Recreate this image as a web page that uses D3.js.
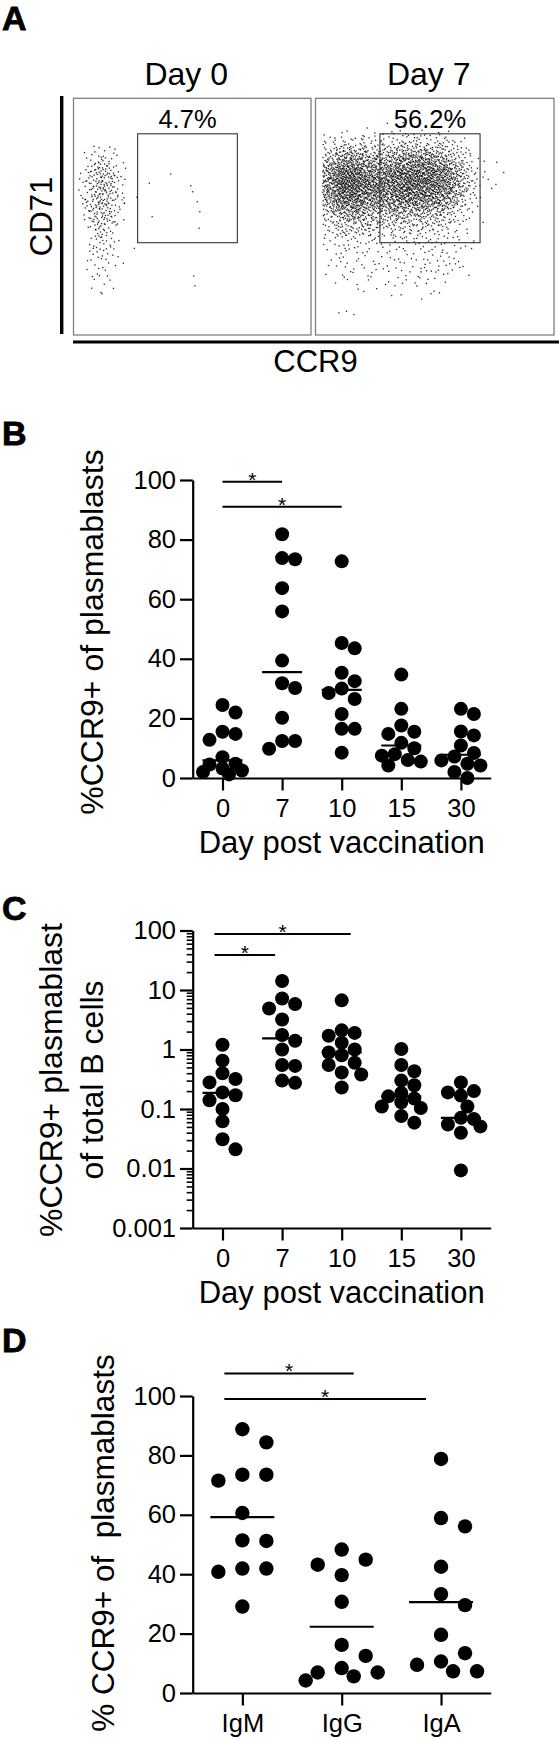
<!DOCTYPE html>
<html><head><meta charset="utf-8">
<script src="https://cdn.jsdelivr.net/npm/d3@7"></script>
<style>
body{margin:0;background:#fff;}
svg{display:block;}
</style></head><body>
<svg id="chart" width="559" height="1739"></svg>
<script>
// ================= DATA =================
// Panel A (flow cytometry): CCR9 (x) vs CD71 (y), both on 0-100 display units
const flowTitles = ["Day 0", "Day 7"];
const flowGatePct = ["4.7%", "56.2%"];
const gateCCR9 = [27, 69];
const gateCD71 = [39, 85];
// Day 0 event density (events per cell): columns start CCR9=2, width 4; rows start CD71=80 (top), height 4
const day0Grid = [
  [0,2,3,2,0],
  [0,4,6,4,1],
  [1,8,11,8,1],
  [2,9,14,9,3],
  [3,10,15,10,2],
  [3,9,15,10,3],
  [2,9,14,9,2],
  [0,8,12,8,1],
  [0,6,10,6,0],
  [0,4,8,4,0],
  [0,3,6,3,0],
  [0,3,4,2,0],
  [0,2,3,2,0],
  [0,1,3,1,0],
  [0,1,2,1,0],
  [0,1,1,0,0]
];
const day0Sparse = [[31.9,64.1],[40.9,68.0],[49.4,63.1],[50.2,60.5],[52.1,56.3],[53.2,52.1],[33.1,50.0],[52.9,45.1],[26.7,58.2],[5.0,57.3],[25.6,36.6],[21.0,30.3],[50.6,24.9],[51.1,20.8],[21.4,55.6]];
// Day 7 event density: columns start CCR9=3, width 6; rows start CD71=90 (top), height 6
const day7Grid = [
  [0,0,0,1,2,2,2,2,1,0,0,0,0],
  [7,14,14,11,14,18,18,16,14,7,2,0,0],
  [28,58,50,40,43,54,58,54,43,22,5,0,0],
  [54,99,90,68,72,86,94,90,76,40,9,2,1],
  [61,112,104,83,83,97,104,94,79,43,11,2,0],
  [50,90,86,65,68,79,79,72,58,29,7,0,0],
  [22,47,50,36,32,36,36,32,25,13,4,0,0],
  [9,22,25,18,14,16,16,16,13,5,2,0,0],
  [4,9,9,7,5,7,7,7,7,4,2,0,0],
  [2,5,5,4,4,5,5,5,7,5,0,0,0],
  [2,4,4,4,4,4,5,7,5,4,0,0,0],
  [0,2,2,2,2,4,2,4,2,0,0,0,0],
  [0,0,1,0,0,0,0,1,0,0,0,0,0],
  [0,1,0,0,0,0,0,0,0,0,0,0,0]
];
const day7Sparse = [[76.0,73.0],[13.0,10.0]];

// Panel B: %CCR9+ of plasmablasts
const bDays = ["0", "7", "10", "15", "30"];
const bDay0  = [24.5, 22.0, 15.5, 14.8, 12.8, 7.0, 4.8, 4.5, 3.2, 2.5, 2.0, 1.2];
const bDay7  = [81.8, 73.8, 73.4, 63.7, 55.9, 39.4, 31.8, 30.2, 20.2, 12.4, 12.4, 9.8];
const bDay10 = [72.7, 45.3, 43.5, 35.3, 32.5, 30.0, 28.5, 26.5, 21.5, 16.5, 16.5, 8.5];
const bDay15 = [34.7, 23.2, 17.6, 15.5, 14.8, 11.8, 10.0, 8.0, 7.5, 6.0, 5.5, 4.2];
const bDay30 = [23.2, 21.5, 15.6, 14.3, 10.9, 8.4, 7.2, 5.9, 4.8, 4.2, 2.0, 0.0];
const bMedians = [5.9, 35.5, 29.6, 10.9, 7.8];
const bTicks = [0, 20, 40, 60, 80, 100];
const bTickLabels = ["0", "20", "40", "60", "80", "100"];
const bSig = [["0", "7"], ["0", "10"]];

// Panel C: %CCR9+ plasmablast of total B cells (log)
const cDays = ["0", "7", "10", "15", "30"];
const cDay0  = [1.2, 0.65, 0.40, 0.32, 0.28, 0.19, 0.17, 0.14, 0.10, 0.062, 0.031, 0.021];
const cDay7  = [14.2, 7.2, 5.8, 4.9, 3.2, 1.75, 1.4, 1.0, 0.55, 0.53, 0.30, 0.275];
const cDay10 = [6.7, 2.1, 1.9, 1.7, 1.3, 1.0, 0.89, 0.8, 0.6, 0.55, 0.41, 0.38, 0.23];
const cDay15 = [1.02, 0.55, 0.43, 0.30, 0.25, 0.186, 0.163, 0.15, 0.13, 0.11, 0.104, 0.076, 0.059];
const cDay30 = [0.28, 0.20, 0.19, 0.168, 0.11, 0.071, 0.068, 0.055, 0.051, 0.040, 0.0093];
const cMedians = [0.186, 1.54, 0.89, 0.163, 0.071];
const cTicks = [0.001, 0.01, 0.1, 1, 10, 100];
const cTickLabels = ["0.001", "0.01", "0.1", "1", "10", "100"];
const cSig = [["0", "10"], ["0", "7"]];

// Panel D: % CCR9+ of plasmablasts by isotype
const dClasses = ["IgM", "IgG", "IgA"];
const dIgM = [88.8, 84.4, 73.5, 73.5, 71.5, 60.6, 51.4, 51.2, 41.9, 41.9, 40.8, 29.1];
const dIgG = [48.3, 44.9, 43.2, 39.7, 30.7, 16.2, 12.5, 8.4, 6.9, 6.9, 5.6, 4.2];
const dIgA = [78.8, 58.9, 56.1, 42.5, 33.3, 29.6, 19.6, 13.4, 10.6, 9.5, 7.3, 7.3];
const dMeans = [59.2, 22.3, 30.6];
const dTicks = [0, 20, 40, 60, 80, 100];
const dTickLabels = ["0", "20", "40", "60", "80", "100"];
const dSig = [["IgM", "IgG"], ["IgM", "IgA"]];

// ================= DRAWING =================
const FONT = '"Liberation Sans", Arial, Helvetica, sans-serif';
const svg = d3.select("#chart").style("font-family", FONT);

// panel letters
[["A", 30], ["B", 445], ["C", 920], ["D", 1352]].forEach(([t, yy]) => {
  svg.append("text").attr("x", 2).attr("y", yy).attr("font-size", 34)
    .attr("font-weight", "bold").attr("fill", "#000")
    .attr("stroke", "#000").attr("stroke-width", 0.8).text(t);
});

// ---------- Panel A ----------
function halton(i, b) { let f = 1, r = 0; while (i > 0) { f /= b; r += f * (i % b); i = Math.floor(i / b); } return r; }
// quasi-uniform (Halton) sampling of the density grid, accepted by bilinear-interpolated density
function gridPoints(grid, colStart, cw, rowTop, ch, seed) {
  const nr = grid.length, nc = grid[0].length;
  const mx = d3.max(grid.flat());
  const dens = (cx, cy) => { // cx, cy in cell units, centers at i+0.5
    let fx = Math.min(Math.max(cx - 0.5, 0), nc - 1), fy = Math.min(Math.max(cy - 0.5, 0), nr - 1);
    const x0 = Math.floor(fx), y0 = Math.floor(fy), x1 = Math.min(x0 + 1, nc - 1), y1 = Math.min(y0 + 1, nr - 1);
    const tx = fx - x0, ty = fy - y0;
    return (grid[y0][x0] * (1 - tx) + grid[y0][x1] * tx) * (1 - ty) + (grid[y1][x0] * (1 - tx) + grid[y1][x1] * tx) * ty;
  };
  const N = Math.round(mx * nr * nc);
  const pts = [];
  for (let n = seed; n < seed + N; n++) {
    const u = halton(n, 2) * nc, v = halton(n, 3) * nr;
    if (halton(n, 5) * mx < dens(u, v)) pts.push([colStart + u * cw, rowTop - v * ch]);
  }
  return pts;
}
const boxTop = 98.3, boxBot = 335;
const flowBoxes = [[73.5, 311], [315.5, 554]];
const flowPts = [
  gridPoints(day0Grid, 2, 4, 80, 4, 11).concat(day0Sparse),
  gridPoints(day7Grid, 3, 6, 90, 6, 101).concat(day7Sparse)
];
flowBoxes.forEach(([x0, x1], i) => {
  const fx = d3.scaleLinear().domain([0, 100]).range([x0, x1]);
  const fy = d3.scaleLinear().domain([0, 100]).range([boxBot, boxTop]);
  const g = svg.append("g");
  g.append("rect").attr("x", x0).attr("y", boxTop).attr("width", x1 - x0).attr("height", boxBot - boxTop)
    .attr("fill", "none").attr("stroke", "#808080").attr("stroke-width", 1.3);
  g.append("g").selectAll("rect").data(flowPts[i]).join("rect")
    .attr("x", d => fx(d[0]) - 0.65).attr("y", d => fy(d[1]) - 0.65)
    .attr("width", 1.3).attr("height", 1.3).attr("fill", "#000").attr("fill-opacity", 0.85);
  g.append("rect").attr("x", fx(gateCCR9[0])).attr("y", fy(gateCD71[1]))
    .attr("width", fx(gateCCR9[1]) - fx(gateCCR9[0])).attr("height", fy(gateCD71[0]) - fy(gateCD71[1]))
    .attr("fill", "none").attr("stroke", "#333").attr("stroke-width", 1.1);
  g.append("text").attr("x", (fx(gateCCR9[0]) + fx(gateCCR9[1])) / 2).attr("y", 128)
    .attr("text-anchor", "middle").attr("font-size", 25.5).text(flowGatePct[i]);
  g.append("text").attr("x", (x0 + x1) / 2 - 6).attr("y", 85)
    .attr("text-anchor", "middle").attr("font-size", 32).text(flowTitles[i]);
});
svg.append("line").attr("x1", 61.7).attr("x2", 61.7).attr("y1", 96).attr("y2", 334)
  .attr("stroke", "#000").attr("stroke-width", 3.4);
svg.append("line").attr("x1", 73).attr("x2", 559).attr("y1", 342).attr("y2", 342)
  .attr("stroke", "#000").attr("stroke-width", 3);
svg.append("text").attr("transform", "translate(52,216.5) rotate(-90)")
  .attr("text-anchor", "middle").attr("font-size", 31).text("CD71");
svg.append("text").attr("x", 315.5).attr("y", 372)
  .attr("text-anchor", "middle").attr("font-size", 31).text("CCR9");

// ---------- dot plots ----------
function swarm(values, y, spacing, maxHalf) {
  const h = spacing / 2, minD = spacing * 0.95;
  const offs = [0];
  for (let k = 1; k * h <= maxHalf + 0.01; k++) offs.push(k * h, -k * h);
  const pts = values.map(v => ({ v, y: y(v) })).sort((a, b) => b.v - a.v);
  const placed = [];
  pts.forEach(p => {
    let best = 0, bestPen = Infinity;
    for (const o of offs) {
      let pen = 0;
      for (const q of placed) { const d = Math.hypot(o - q.dx, p.y - q.y); if (d < minD) pen += minD - d; }
      if (pen === 0) { best = o; break; }
      if (pen < bestPen - 1e-9) { bestPen = pen; best = o; }
    }
    p.dx = best; placed.push(p);
  });
  return placed;
}

const AX_X = 192.7, AX_R = 490.7;
function styleAxis(sel, fs) {
  sel.attr("font-family", FONT).attr("font-size", fs);
  sel.selectAll(".domain").attr("stroke", "#000").attr("stroke-width", 2.2);
  sel.selectAll(".tick line").attr("stroke", "#000").attr("stroke-width", 2.2);
  sel.selectAll(".tick text").attr("fill", "#000");
}

function dotPanel(o) {
  const g = svg.append("g");
  const x = d3.scalePoint().domain(o.cats).range([AX_X, AX_R]).padding(0.5);
  const y = o.y;
  const y0 = y.range()[0];
  if (o.minor) {
    const m = g.append("g").attr("transform", `translate(${AX_X},0)`)
      .call(d3.axisLeft(y).tickValues(o.minor).tickSize(6).tickFormat("").tickSizeOuter(0));
    m.select(".domain").remove();
    styleAxis(m, 25.5);
    m.selectAll(".tick line").attr("stroke-width", 1.6);
  }
  const ya = g.append("g").attr("transform", `translate(${AX_X},0)`)
    .call(d3.axisLeft(y).tickValues(o.ticks).tickFormat((d, i) => o.tickLabels[i]).tickSize(12.7).tickPadding(4).tickSizeOuter(0));
  styleAxis(ya, 25.5);
  const xa = g.append("g").attr("transform", `translate(0,${y0})`)
    .call(d3.axisBottom(x).tickSize(12.5).tickSizeOuter(0));
  styleAxis(xa, 25.5);
  xa.selectAll(".tick text").attr("y", 39).attr("dy", 0);
  if (o.xTitle) {
    g.append("text").attr("x", (AX_X + AX_R) / 2).attr("y", y0 + 75).attr("text-anchor", "middle")
      .attr("font-size", 31).text(o.xTitle);
  }
  o.yLabel.forEach(([t, bx]) => {
    g.append("text").attr("transform", `translate(${bx},${o.yLabelCy}) rotate(-90)`)
      .attr("text-anchor", "middle").attr("font-size", o.yLabelSize).style("white-space", "pre").text(t);
  });
  // center lines
  g.append("g").selectAll("line").data(o.cats).join("line")
    .attr("x1", c => x(c) - o.lineHalf).attr("x2", c => x(c) + o.lineHalf)
    .attr("y1", (c, i) => y(o.lines[i])).attr("y2", (c, i) => y(o.lines[i]))
    .attr("stroke", "#000").attr("stroke-width", 2.2);
  // dots
  o.groups.forEach((vals, i) => {
    const pts = swarm(vals, y, o.spacing, o.maxHalf);
    g.append("g").selectAll("circle").data(pts).join("circle")
      .attr("cx", p => x(o.cats[i]) + p.dx).attr("cy", p => p.y).attr("r", o.r).attr("fill", "#000");
  });
  // significance bars
  o.sig.forEach(([a, b], k) => {
    const yy = y(o.sigLevels[k]);
    const xa1 = x(a) + o.sigPad[k][0], xb1 = x(b) + o.sigPad[k][1];
    g.append("line").attr("x1", xa1).attr("x2", xb1).attr("y1", yy).attr("y2", yy)
      .attr("stroke", "#000").attr("stroke-width", 2);
    g.append("text").attr("x", (xa1 + xb1) / 2).attr("y", yy + 5).attr("text-anchor", "middle")
      .attr("font-size", 21).text("*");
  });
}

// Panel B
dotPanel({
  cats: bDays, groups: [bDay0, bDay7, bDay10, bDay15, bDay30], lines: bMedians,
  y: d3.scaleLinear().domain([0, 100]).range([778, 480]),
  ticks: bTicks, tickLabels: bTickLabels,
  xTitle: "Day post vaccination",
  yLabel: [["%CCR9+ of plasmablasts", 103]], yLabelCy: 632, yLabelSize: 32,
  spacing: 13, maxHalf: 19.5, r: 7, lineHalf: 20,
  sig: bSig, sigLevels: [99.4, 91.0], sigPad: [[0, 0], [0, 0]]
});

// Panel C
const cMinor = [];
[0.001, 0.01, 0.1, 1, 10].forEach(dec => { for (let k = 2; k <= 9; k++) cMinor.push(k * dec); });
dotPanel({
  cats: cDays, groups: [cDay0, cDay7, cDay10, cDay15, cDay30], lines: cMedians,
  y: d3.scaleLog().domain([0.001, 100]).range([1228, 930.5]),
  ticks: cTicks, tickLabels: cTickLabels, minor: cMinor,
  xTitle: "Day post vaccination",
  yLabel: [["%CCR9+ plasmablast", 61.5], ["of total B cells", 103]], yLabelCy: 1080, yLabelSize: 32,
  spacing: 13, maxHalf: 19.5, r: 7, lineHalf: 20,
  sig: cSig, sigLevels: [87, 38.7], sigPad: [[-8, 9], [-8, -7]]
});

// Panel D
dotPanel({
  cats: dClasses, groups: [dIgM, dIgG, dIgA], lines: dMeans,
  y: d3.scaleLinear().domain([0, 100]).range([1693, 1396]),
  ticks: dTicks, tickLabels: dTickLabels,
  xTitle: null,
  yLabel: [["% CCR9+ of  plasmablasts", 114]], yLabelCy: 1543, yLabelSize: 31.5,
  spacing: 24, maxHalf: 36, r: 7.2, lineHalf: 32,
  sig: dSig, sigLevels: [107.6, 99.0], sigPad: [[-18, 12], [-18, -15]]
});
</script>
</body></html>
